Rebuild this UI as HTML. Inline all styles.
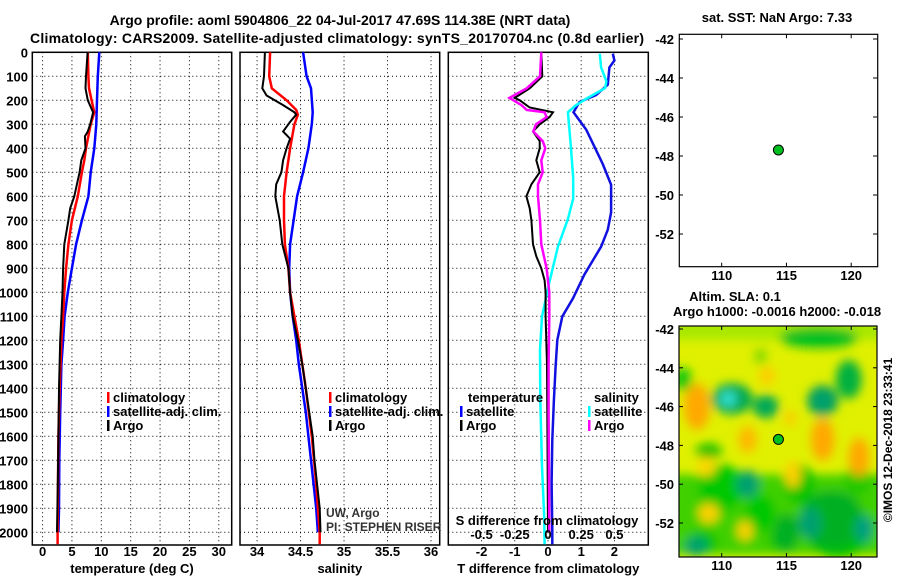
<!DOCTYPE html>
<html><head><meta charset="utf-8">
<style>
html,body{margin:0;padding:0;background:#fff;}
svg{display:block;font-family:"Liberation Sans",Arial,sans-serif;}
.b{font-weight:bold;font-size:13px;fill:#000;}
.t{font-weight:bold;font-size:14px;fill:#000;}
</style></head>
<body>
<svg id="chart" width="900" height="580" viewBox="0 0 900 580" xmlns="http://www.w3.org/2000/svg">
<defs>
<filter id="blur" x="-20%" y="-20%" width="140%" height="140%"><feGaussianBlur stdDeviation="5"/></filter>
<clipPath id="mapclip"><rect x="679" y="326" width="198" height="231"/></clipPath>
</defs>
<text class="t" x="340" y="25" text-anchor="middle">Argo profile: aoml 5904806_22 04-Jul-2017 47.69S 114.38E (NRT data)</text>
<text class="t" x="30" y="43" textLength="614">Climatology: CARS2009. Satellite-adjusted climatology: synTS_20170704.nc (0.8d earlier)</text>
<g id="g"></g>
</svg>
<script>
// ---- Temperature panel data (depth m, deg C) ----
const tArgoDepth = [0,100,150,200,250,300,330,350,400,450,500,550,600,650,700,800,900,1000,1100,1200,1300,1400,1600,1800,2000];
const tArgoVal   = [7.67,7.4,7.3,7.7,8.6,8.1,7.7,7.2,7.3,6.6,6.3,5.85,5.4,4.7,4.4,3.7,3.5,3.4,3.2,3.0,2.9,2.8,2.7,2.6,2.45];
const tClimDepth = [0,100,150,200,250,300,400,450,500,600,700,800,900,1000,1100,1200,1400,1600,2000,2050];
const tClimVal   = [7.7,7.8,7.9,8.35,8.8,8.2,7.4,7.1,6.7,6.0,5.0,4.4,4.0,3.7,3.5,3.2,2.9,2.7,2.55,2.55];
const tSatDepth  = [0,100,200,300,400,500,600,700,800,900,1000,1100,1200,1300,1500,1700,1900,2000];
const tSatVal    = [9.66,9.4,9.26,9.15,8.8,8.2,7.8,6.7,5.7,5.0,4.3,3.75,3.5,3.2,3.0,2.85,2.8,2.7];
// ---- Salinity panel data ----
const sArgoDepth = [0,100,150,180,220,250,260,290,330,360,400,450,500,550,600,700,800,900,1000,1100,1200,1300,1400,1500,1600,1700,1800,1900,2000];
const sArgoVal   = [34.09,34.08,34.06,34.11,34.3,34.43,34.45,34.38,34.3,34.38,34.34,34.3,34.28,34.22,34.21,34.26,34.29,34.36,34.38,34.41,34.47,34.52,34.56,34.6,34.64,34.66,34.69,34.72,34.73];
const sClimDepth = [0,100,150,200,240,260,300,400,500,600,700,800,900,1000,1100,1200,1400,1600,1800,2000,2050];
const sClimVal   = [34.15,34.14,34.17,34.34,34.45,34.47,34.43,34.38,34.34,34.31,34.31,34.32,34.36,34.38,34.43,34.48,34.56,34.63,34.68,34.72,34.72];
const sSatDepth  = [0,100,150,250,300,400,500,600,700,800,900,1000,1100,1200,1300,1400,1500,1600,1700,1800,1900,2000];
const sSatVal    = [34.53,34.57,34.62,34.64,34.63,34.59,34.53,34.46,34.42,34.38,34.37,34.38,34.41,34.45,34.48,34.52,34.56,34.59,34.62,34.65,34.68,34.70];
// ---- Difference panel data ----
const dTArgoDepth = [0,100,150,190,200,230,250,270,300,330,370,400,450,500,550,600,650,700,800,850,900,950,1000,1100,1300,1500,2000];
const dTArgoVal   = [-0.2,-0.17,-0.55,-1.0,-0.85,-0.55,0.15,0.05,-0.25,-0.45,-0.25,-0.25,-0.35,-0.25,-0.5,-0.65,-0.55,-0.5,-0.45,-0.35,-0.2,-0.1,-0.07,-0.07,-0.03,-0.02,0];
const dTSatDepth  = [6,34,63,135,178,207,250,322,379,466,552,667,739,810,925,1026,1101,1199,1310,1449,1615,1795,1990,2050];
const dTSatVal    = [1.95,2.0,1.85,1.8,1.45,0.95,0.77,1.15,1.35,1.65,1.9,1.9,1.8,1.6,1.1,0.75,0.43,0.28,0.23,0.18,0.13,0.11,0.13,0.13];
const dSArgoDepth = [0,100,150,190,220,240,250,270,300,330,370,400,450,500,550,600,700,800,900,1000,1100,1300,1500,2000];
const dSArgoVal   = [-0.05,-0.06,-0.16,-0.29,-0.2,-0.16,-0.025,-0.01,-0.09,-0.11,-0.04,-0.02,-0.05,-0.04,-0.075,-0.075,-0.06,-0.05,-0.01,0.01,0.01,0.005,0.005,0.01];
const dSSatDepth  = [6,63,121,149,193,221,250,379,523,609,695,810,954,1101,1240,1449,1726,1935,2050];
const dSSatVal    = [0.39,0.4,0.44,0.43,0.29,0.21,0.15,0.17,0.19,0.19,0.15,0.075,0.012,-0.045,-0.06,-0.058,-0.045,-0.028,-0.025];
// ---- Map data ----
const argoLon = 114.38;
const argoLat = -47.69;
// SLA blobs: lon, lat, rx(deg), ry(deg), colour
const blobLon = [110.0,113.0,119.0,116.0,108.5,114.5,120.5,109.0,117.5,113.0,108.1,112.0,117.8,120.6,113.5,107.0,110.8,113.4,117.8,119.8,117.5,118.5,112.0,116.8,121.0,108.0,110.5,110.5,117.8,115.0,115.5,109.0,115.3,108.8,111.8];
const blobLat = [-50.2,-51.5,-52.5,-50.0,-53.0,-52.8,-49.8,-48.3,-42.5,-43.4,-46.0,-47.7,-47.7,-48.6,-44.4,-44.6,-45.6,-46.0,-45.7,-44.6,-42.4,-51.8,-50.0,-52.0,-52.3,-53.2,-45.6,-45.6,-45.7,-52.5,-49.5,-51.5,-46.6,-49.1,-52.4];
const blobRx  = [1.8,1.2,2.5,1.2,1.2,0.8,1.0,1.0,3.0,0.5,1.0,0.7,0.9,0.8,0.6,0.7,1.6,1.0,1.2,1.0,3.0,2.5,0.9,0.9,0.7,0.9,0.7,0.6,0.6,1.0,0.6,0.8,0.4,0.7,0.6];
const blobRy  = [1.2,1.0,1.3,1.0,0.6,0.6,0.8,0.4,0.5,0.4,1.2,0.7,1.1,1.0,0.5,0.6,0.8,0.6,0.8,1.0,0.5,1.5,0.7,0.8,0.7,0.5,0.45,0.35,0.45,1.0,0.7,0.5,0.4,0.5,0.5];
const blobCol = ["#00c800","#00c800","#00c000","#00c400","#00c000","#00c000","#20c800","#10c000","#20c800","#80d800","#ffa800","#ffb800","#ffa800","#ffa800","#ffcc00","#10c810","#00a850","#00a858","#00a060","#00b040","#00c020","#00b020","#00a070","#00a070","#00a080","#00a070","#20c8b0","#30e0d0","#00a070","#00b020","#ffd000","#ffd000","#ffc800","#ffd800","#ffd000"];

const NS='http://www.w3.org/2000/svg';
const G=document.getElementById('g');
function mk(tag,attrs,parent){const e=document.createElementNS(NS,tag);for(const k in attrs)e.setAttribute(k,attrs[k]);(parent||G).appendChild(e);return e;}
function txt(s,x,y,cls,anchor,parent){const e=mk('text',{x:x,y:y,class:cls||'b','text-anchor':anchor||'start'},parent);e.textContent=s;return e;}

const PY0=52.3, PY1=545;
function yD(d){return 52.3+0.24*d;}
const panels=[
 {x0:32.3,x1:231.7,dmin:-1.75,dmax:32.2,ticks:[0,5,10,15,20,25,30],labels:['0','5','10','15','20','25','30'],title:'temperature (deg C)',name:'temperature-panel'},
 {x0:240,x1:439.7,dmin:33.804,dmax:36.1,ticks:[34,34.5,35,35.5,36],labels:['34','34.5','35','35.5','36'],title:'salinity',name:'salinity-panel'},
 {x0:448.3,x1:648.3,dmin:-3.0,dmax:3.02,ticks:[-2,-1,0,1,2],labels:['-2','-1','0','1','2'],title:'T difference from climatology',name:'difference-panel'}
];
panels.forEach(p=>{p.xs=v=>p.x0+(v-p.dmin)/(p.dmax-p.dmin)*(p.x1-p.x0);});

panels.forEach((p,pi)=>{
  const grp=mk('g',{});
  
  
  for(let d=100;d<=2000;d+=100){
    const l=mk('line',{x1:p.x0,x2:p.x1,y1:yD(d),y2:yD(d),stroke:'#000','stroke-width':1,'stroke-dasharray':'1,3'},grp);
    
    
  }
  p.ticks.forEach((t,i)=>{
    const x=p.xs(t);
    const l=mk('line',{x1:x,x2:x,y1:PY0,y2:PY1,stroke:'#000','stroke-width':1,'stroke-dasharray':'1,3'},grp);
    
    
    const tl=txt(p.labels[i],x,556,'b','middle',grp);
    
    
  });
  const r=mk('rect',{x:p.x0,y:PY0,width:p.x1-p.x0,height:PY1-PY0,fill:'none',stroke:'#000','stroke-width':1.5},grp);
  
  
  const at=txt(p.title,(p.x0+p.x1)/2,573,'b','middle',grp);
  
  
});
for(let d=0;d<=2000;d+=100){
  const e=txt(String(d),28,yD(d)+5,'b','end');
  
  
}

function series(p,depths,vals,color,w,name,scale){
  const pts=depths.map((d,i)=>p.xs(vals[i]*(scale||1)).toFixed(1)+','+yD(d).toFixed(1)).join(' ');
  const e=mk('polyline',{points:pts,fill:'none',stroke:color,'stroke-width':w,'stroke-linejoin':'miter'});
  
  
}
series(panels[0],tSatDepth,tSatVal,'#0000ff',2.5,'temperature-satellite-line');
series(panels[0],tClimDepth,tClimVal,'#ff0000',2.5,'temperature-climatology-line');
series(panels[0],tArgoDepth,tArgoVal,'#000',2,'temperature-argo-line');
series(panels[1],sSatDepth,sSatVal,'#0000ff',2.5,'salinity-satellite-line');
series(panels[1],sClimDepth,sClimVal,'#ff0000',2.5,'salinity-climatology-line');
series(panels[1],sArgoDepth,sArgoVal,'#000',2,'salinity-argo-line');
series(panels[2],dTSatDepth,dTSatVal,'#1010e0',2.5,'t-diff-satellite-line');
series(panels[2],dSSatDepth,dSSatVal,'#00ffff',2.5,'s-diff-satellite-line',4);
series(panels[2],dTArgoDepth,dTArgoVal,'#000',2,'t-diff-argo-line');
series(panels[2],dSArgoDepth,dSArgoVal,'#ff00ff',2.5,'s-diff-argo-line',4);

function legend(x,y,color,label,name){
  const r=mk('rect',{x:x,y:y-10,width:2.5,height:11,fill:color});
  
  
  const t=txt(label,x+6,y,'b');
  
  
}
legend(107,402,'#ff0000','climatology','legend-temp-climatology');
legend(107,416,'#0000ff','satellite-adj. clim.','legend-temp-satellite');
legend(107,430,'#000','Argo','legend-temp-argo');
legend(329,402,'#ff0000','climatology','legend-sal-climatology');
legend(329,416,'#0000ff','satellite-adj. clim.','legend-sal-satellite');
legend(329,430,'#000','Argo','legend-sal-argo');
let e=txt('temperature',468,402,'b');


legend(460,416,'#0000ff','satellite','legend-tdiff-satellite');
legend(460,430,'#000','Argo','legend-tdiff-argo');
e=txt('salinity',594,402,'b');


legend(588,416,'#00ffff','satellite','legend-sdiff-satellite');
legend(588,430,'#ff00ff','Argo','legend-sdiff-argo');

e=txt('UW, Argo',326,517,'', 'start');e.setAttribute('style','font-size:12px;fill:#333');


e=txt('PI: STEPHEN RISER',326,531,'','start');e.setAttribute('style','font-size:12px;fill:#333');



e=txt('S difference from climatology',547,525,'b','middle');


const sTicks=[-0.5,-0.25,0,0.25,0.5];
const sLabels=['-0.5','-0.25','0','0.25','0.5'];
sTicks.forEach((s,i)=>{
  const t=txt(sLabels[i],panels[2].xs(s*4),539,'b','middle');
  
  
});

// ---- Maps ----
function lonX(l){return 721.7+(l-110)*12.95;}
function map(name){
  const mg=mk('g',{});
  
  
  return mg;
}
const m1=map('sst-map');
const lat1=l=>39+(-42-l)*19.5;
let fr=mk('rect',{x:679.3,y:34.3,width:198.4,height:232.4,fill:'#fff',stroke:'#000','stroke-width':1.2},m1);


const m2=map('sla-map');
const lat2=l=>329+(-42-l)*19.4;
const hg=mk('g',{'clip-path':'url(#mapclip)'},m2);
mk('rect',{x:679,y:326,width:198,height:231,fill:'#e0f000'},hg);
const bg=mk('g',{filter:'url(#blur)'},hg);
mk('rect',{x:670,y:lat2(-49.5),width:220,height:80,fill:'#40d000'},bg);
mk('rect',{x:670,y:320,width:220,height:20,fill:'#a8e800'},bg);
blobLon.forEach((lo,i)=>{
  const el=mk('ellipse',{cx:lonX(lo),cy:lat2(blobLat[i]),rx:blobRx[i]*12.95,ry:blobRy[i]*19.4,fill:blobCol[i]},bg);
  
  
});
fr=mk('rect',{x:679,y:326,width:198,height:231,fill:'none',stroke:'#000','stroke-width':1.2},m2);



[[lat1,34.3,266.7,280],[lat2,326,557,570]].forEach(([lf,top,bot,ly])=>{
  [-42,-44,-46,-48,-50,-52].forEach(l=>{
    const y=lf(l);
    mk('line',{x1:679,x2:683,y1:y,y2:y,stroke:'#000'});
    mk('line',{x1:873,x2:877,y1:y,y2:y,stroke:'#000'});
    const t=txt(String(l),674,y+5,'b','end');
    
    
  });
  [110,115,120].forEach(l=>{
    const x=lonX(l);
    mk('line',{x1:x,x2:x,y1:top,y2:top+4,stroke:'#000'});
    mk('line',{x1:x,x2:x,y1:bot-4,y2:bot,stroke:'#000'});
    const t=txt(String(l),x,ly,'b','middle');
    
    
  });
  const c=mk('circle',{cx:lonX(argoLon),cy:lf(argoLat),r:5,fill:'#00c020',stroke:'#000','stroke-width':1});
  
  
});

e=txt('sat. SST: NaN Argo: 7.33',777,22,'b','middle');


e=txt('Altim. SLA: 0.1',735,301,'b','middle');


e=txt('Argo h1000: -0.0016 h2000: -0.018',777,316,'b','middle');


e=txt('©IMOS 12-Dec-2018 23:33:41',0,0,'','middle');
e.setAttribute('transform','translate(892,440) rotate(-90)');
e.setAttribute('style','font-size:12px;fill:#000');


</script>
</body></html>
